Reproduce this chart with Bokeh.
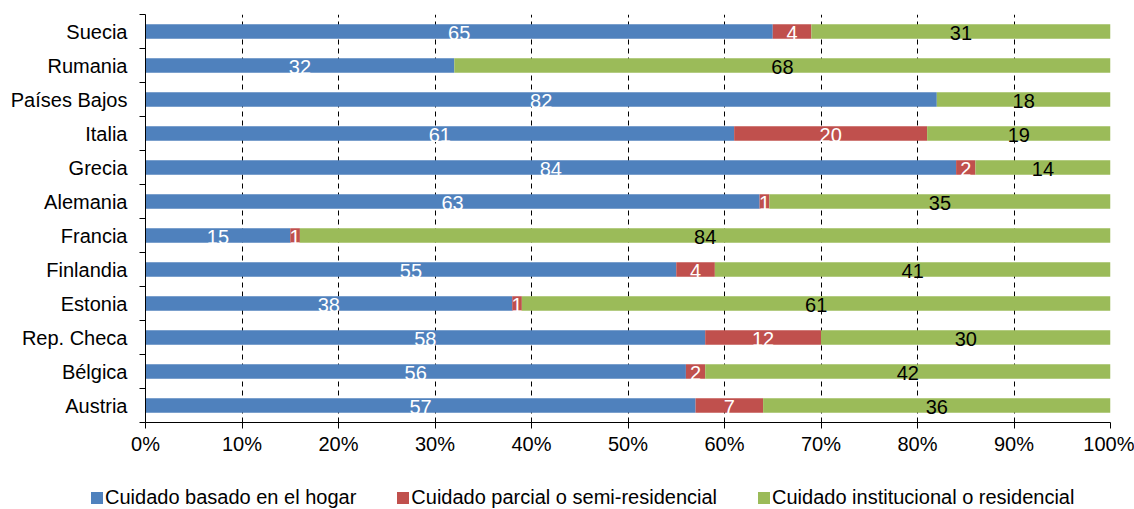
from bokeh.plotting import figure
from bokeh.layouts import column
from bokeh.models import ColumnDataSource, FixedTicker, Legend, LegendItem, Range1d
from bokeh.embed import file_html
from bokeh.resources import INLINE
from bokeh.core.properties import value

countries = ["Suecia", "Rumania", "Países Bajos", "Italia", "Grecia", "Alemania",
             "Francia", "Finlandia", "Estonia", "Rep. Checa", "Bélgica", "Austria"]
hogar = [65, 32, 82, 61, 84, 63, 15, 55, 38, 58, 56, 57]
parcial = [4, 0, 0, 20, 2, 1, 1, 4, 1, 12, 2, 7]
institucional = [31, 68, 18, 19, 14, 35, 84, 41, 61, 30, 42, 36]
series_names = ["Cuidado basado en el hogar", "Cuidado parcial o semi-residencial",
                "Cuidado institucional o residencial"]
x_ticks = list(range(0, 101, 10))

colors = ["#4F81BD", "#C0504D", "#9BBB59"]
label_colors = ["white", "white", "black"]
FONT = "Liberation Sans"
FS = "20px"

n = len(countries)
ypos = [n - 1 - i for i in range(n)]
series = [hogar, parcial, institucional]
totals = [sum(v) for v in zip(*series)]

p = figure(width=1134, height=469, output_backend="svg", toolbar_location=None,
           x_range=Range1d(0, 100), y_range=Range1d(-0.5, n - 0.5),
           min_border_left=145, min_border_right=24, min_border_top=14, min_border_bottom=47)
p.outline_line_color = None
p.frame_align = False

left = [0.0] * n
sources = []
lx, ly, lt, lc = [], [], [], []
for s, vals in enumerate(series):
    pct = [v / t * 100 for v, t in zip(vals, totals)]
    right = [l + q for l, q in zip(left, pct)]
    src = ColumnDataSource(dict(y=ypos, left=left, right=right))
    sources.append(src)
    p.hbar(y="y", left="left", right="right", height=0.42, source=src,
           fill_color=colors[s], line_color=None)
    for i in range(n):
        if vals[i] > 0:
            lx.append((left[i] + right[i]) / 2)
            ly.append(ypos[i])
            lt.append(str(vals[i]))
            lc.append(label_colors[s])
    left = right

lsrc = ColumnDataSource(dict(x=lx, y=ly, t=lt, c=lc))
p.text(x="x", y="y", text="t", text_color="c", source=lsrc,
       text_font=value(FONT), text_font_size=FS, text_align="center",
       text_baseline="middle", y_offset=1)

# x axis
p.xaxis.ticker = FixedTicker(ticks=x_ticks)
p.xaxis.major_label_overrides = {t: f"{t}%" for t in x_ticks}
p.xaxis.major_tick_out = 6
p.xaxis.major_tick_in = 0
p.xaxis.minor_tick_line_color = None
p.xaxis.axis_line_color = "black"
p.xaxis.major_tick_line_color = "black"
p.xaxis.major_label_text_font = FONT
p.xaxis.major_label_text_font_size = FS
p.xaxis.major_label_text_color = "black"
p.xaxis.major_label_standoff = 4

# y axis
p.yaxis.ticker = FixedTicker(ticks=ypos, minor_ticks=[i - 0.5 for i in range(n + 1)])
p.yaxis.major_label_overrides = {y: c for y, c in zip(ypos, countries)}
p.yaxis.major_tick_out = 0
p.yaxis.major_tick_in = 0
p.yaxis.minor_tick_out = 6
p.yaxis.minor_tick_in = 0
p.yaxis.minor_tick_line_color = "black"
p.yaxis.axis_line_color = "black"
p.yaxis.major_label_text_font = FONT
p.yaxis.major_label_text_font_size = FS
p.yaxis.major_label_text_color = "black"
p.yaxis.major_label_standoff = 12

p.xgrid.ticker = FixedTicker(ticks=x_ticks[1:])
p.xgrid.grid_line_color = "black"
p.xgrid.grid_line_dash = "5 4"
p.xgrid.grid_line_width = 1
p.ygrid.grid_line_color = None

# legend strip (same data sources; its ranges keep the bars out of view)
lg = figure(width=1134, height=40, output_backend="svg", toolbar_location=None,
            x_range=Range1d(0, 100), y_range=Range1d(100, 101),
            min_border_left=0, min_border_right=0, min_border_top=0, min_border_bottom=0)
lg.frame_align = False
lg.axis.visible = False
lg.grid.visible = False
lg.outline_line_color = None
items = []
for nm, col, src in zip(series_names, colors, sources):
    r = lg.hbar(y="y", left="left", right="right", height=0.42, source=src,
                fill_color=col, line_color=None)
    items.append(LegendItem(label=nm, renderers=[r]))
legend = Legend(items=items, orientation="horizontal", location=(89, 0),
                glyph_width=15, glyph_height=15, label_standoff=1, spacing=39,
                padding=0, margin=0, border_line_color=None, background_fill_alpha=0,
                label_text_font=FONT, label_text_font_size=FS, label_text_color="black")
lg.add_layout(legend, "center")

open("out.html", "w").write(file_html(column(p, lg, spacing=0), INLINE))
